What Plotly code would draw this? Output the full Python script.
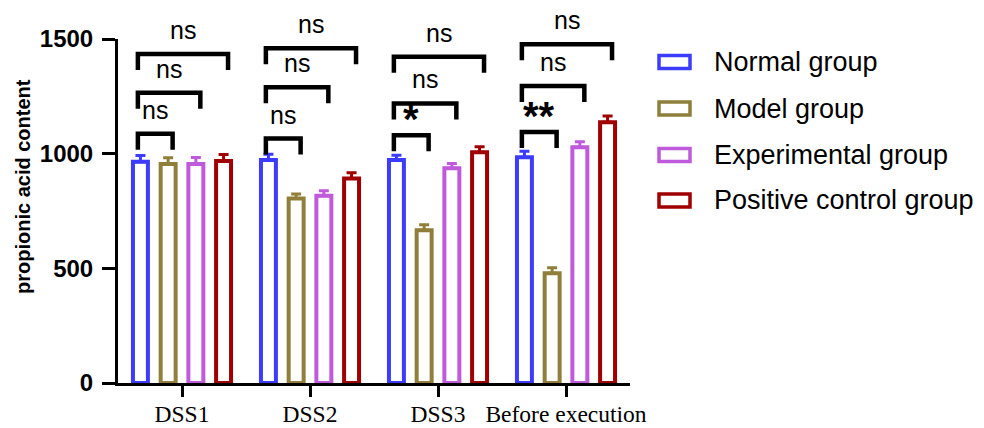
import plotly.graph_objects as go

# ---------------- data ----------------
categories = ["DSS1", "DSS2", "DSS3", "Before execution"]
series_names = ["Normal group", "Model group", "Experimental group", "Positive control group"]
normal = [965, 972, 972, 984]
model = [955, 804, 666, 479]
experimental = [955, 816, 936, 1028]
positive = [968, 892, 1006, 1137]
normal_err = [27, 26, 21, 27]
model_err = [27, 20, 24, 24]
experimental_err = [28, 22, 21, 24]
positive_err = [28, 25, 24, 27]
y_ticks = [0, 500, 1000, 1500]
y_title = "propionic acid content"

# significance brackets: Normal group vs series index (1,2,3) within each category
sig_labels = [
    ["ns", "ns", "ns"],
    ["ns", "ns", "ns"],
    ["*", "ns", "ns"],
    ["**", "ns", "ns"],
]
sig_levels = [
    [1087, 1266, 1435],
    [1066, 1290, 1460],
    [1080, 1219, 1423],
    [1095, 1295, 1477],
]

colors = ["#3c3cff", "#8f7f3a", "#c05adc", "#a00000"]
values = [normal, model, experimental, positive]
errors = [normal_err, model_err, experimental_err, positive_err]

# ---------------- layout constants ----------------
W, H = 984, 428
ML, MT = 118, 39            # plot area left/top in px
PLOT_R, PLOT_B = 630, 383   # plot area right/bottom in px
MR, MB = W - PLOT_R, H - PLOT_B
PW, PH = PLOT_R - ML, PLOT_B - MT
BARGAP, BARGROUPGAP = 0.134, 0.46
n_series = len(series_names)
slot = (1 - BARGAP) / n_series
x_pos = list(range(len(categories)))
y_min, y_max = y_ticks[0], y_ticks[-1]


def px2paper_x(px):
    return (px - ML) / PW


def px2paper_y(py):
    return (PLOT_B - py) / PH


def val2paper_y(v):
    return (v - y_min) / (y_max - y_min)


upp = (y_max - y_min) / PH  # data units per pixel

fig = go.Figure()
for i in range(n_series):
    fig.add_trace(go.Bar(
        x=x_pos, y=values[i], name=series_names[i],
        marker=dict(color="white", line=dict(color=colors[i], width=4)),
        error_y=dict(type="data", array=errors[i], arrayminus=[0] * len(errors[i]),
                     symmetric=False, color=colors[i], thickness=3, width=5),
        showlegend=False,
    ))

shapes = []
annotations = []
leg_drop = 16 * upp
for c in x_pos:
    left = c + (0 - 1.5) * slot - 0.02
    for k, target in enumerate([1, 2, 3]):
        right = c + (target - 1.5) * slot + 0.035
        lvl = sig_levels[c][k]
        shapes.append(dict(
            type="path", xref="x", yref="y",
            path=f"M {left},{lvl - leg_drop} L {left},{lvl} L {right},{lvl} L {right},{lvl - leg_drop}",
            line=dict(color="black", width=4.5),
        ))
        lab = sig_labels[c][k]
        if lab == "ns":
            annotations.append(dict(
                x=(left + right) / 2, y=val2paper_y(lvl + 24 * upp), xref="x", yref="paper",
                text=lab, showarrow=False, yanchor="middle",
                font=dict(family="Liberation Sans, Arial", size=25, color="black"),
            ))
        else:
            annotations.append(dict(
                x=(left + right) / 2, y=val2paper_y(lvl + 16 * upp), xref="x", yref="paper",
                text=lab, showarrow=False, yanchor="middle",
                font=dict(family="Liberation Sans, Arial", size=40, color="black", weight="bold"),
            ))

# y-axis title (px centre 23, 187)
annotations.append(dict(
    x=px2paper_x(23), y=px2paper_y(187), xref="paper", yref="paper",
    text=y_title, textangle=-90, showarrow=False, xanchor="center", yanchor="middle",
    font=dict(family="Liberation Sans, Arial", size=20, color="black", weight="bold"),
))

# custom legend (px)
row_y = [62, 108.5, 155, 200.5]
for i in range(n_series):
    shapes.append(dict(
        type="rect", xref="paper", yref="paper",
        x0=px2paper_x(659), x1=px2paper_x(690),
        y0=px2paper_y(row_y[i] + 6.5), y1=px2paper_y(row_y[i] - 6.5),
        line=dict(color=colors[i], width=3.5), fillcolor="white",
    ))
    annotations.append(dict(
        x=px2paper_x(712), y=px2paper_y(row_y[i]), xref="paper", yref="paper",
        text=series_names[i], showarrow=False, xanchor="left", yanchor="middle",
        font=dict(family="Liberation Sans, Arial", size=27, color="black"),
    ))

fig.update_layout(
    width=W, height=H,
    margin=dict(l=ML, r=MR, t=MT, b=MB, pad=0, autoexpand=False),
    paper_bgcolor="white", plot_bgcolor="white",
    barmode="group", bargap=BARGAP, bargroupgap=BARGROUPGAP,
    shapes=shapes, annotations=annotations,
    showlegend=False,
    xaxis=dict(
        range=[-0.5, len(categories) - 0.5], automargin=False,
        tickvals=x_pos, ticktext=categories,
        showline=True, linecolor="black", linewidth=3,
        ticks="outside", ticklen=11, tickwidth=3, tickcolor="black",
        ticklabelstandoff=-3,
        showgrid=False, zeroline=False,
        tickfont=dict(family="Liberation Serif, Times New Roman", size=23.5, color="black"),
    ),
    yaxis=dict(
        range=[y_min, y_max], automargin=False,
        tickvals=y_ticks,
        showline=True, linecolor="black", linewidth=3,
        ticks="outside", ticklen=13, tickwidth=3, tickcolor="black",
        ticklabelstandoff=4,
        showgrid=False, zeroline=False,
        tickfont=dict(family="Liberation Sans, Arial", size=24, color="black", weight="bold"),
    ),
)

# remove the default page margin so the figure sits at the window's top-left corner
fig.write_html(
    "out.html",
    config={"displayModeBar": False},
    post_script="document.body.style.margin='0';document.body.style.overflow='hidden';",
)
